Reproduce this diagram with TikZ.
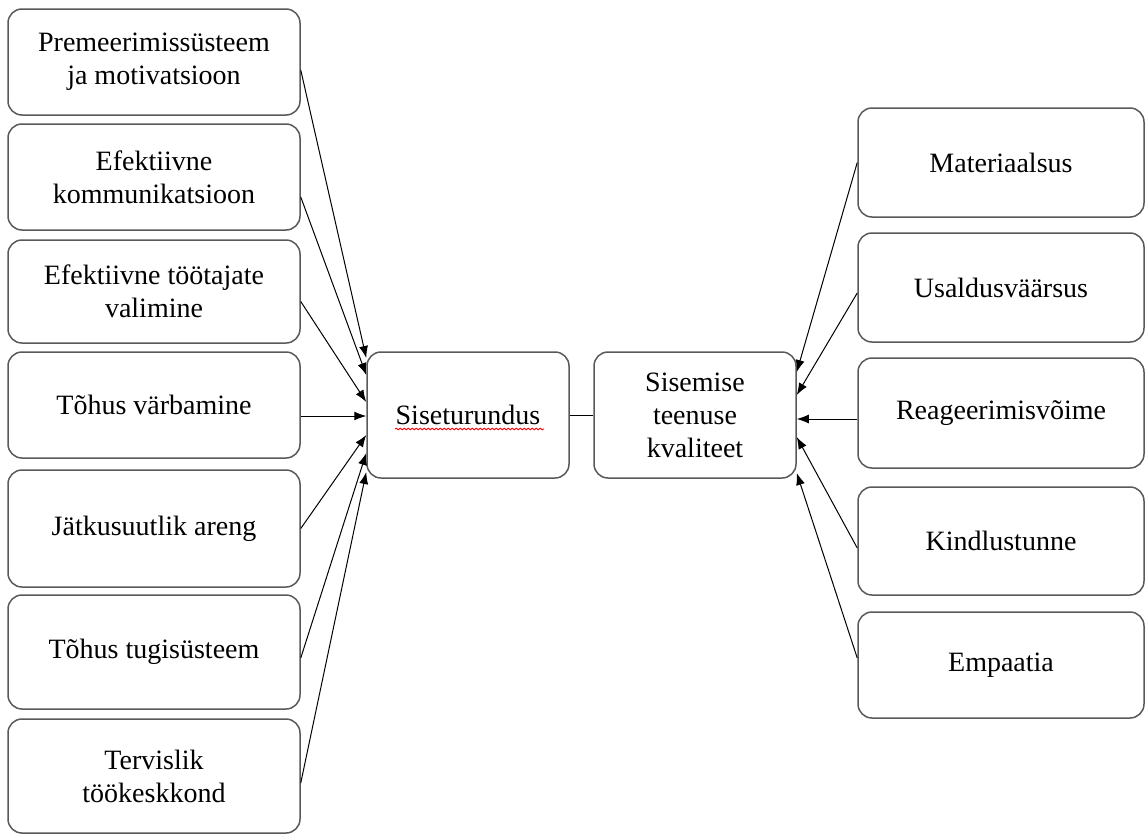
\documentclass[tikz,border=0pt]{standalone}
\usepackage{fontspec}
\setmainfont{Liberation Serif}
\usepackage{tikz}
\usetikzlibrary{arrows.meta,decorations.pathmorphing}

\begin{document}
\begin{tikzpicture}[x=0.5pt,y=-0.5pt,>={Latex[length=6pt,width=4.5pt]}]
% — styles ––––––––––––––––––––––––––
\tikzstyle{box}  =[draw=black!65,line width=0.75pt,rounded corners=7pt,align=center,inner sep=2pt,font=\fontsize{14}{16.5}\selectfont]
\tikzstyle{lbox} =[box,minimum width=146pt]
\tikzstyle{rbox} =[box,minimum width=143pt]
\tikzstyle{cbox} =[box,minimum width=101pt,minimum height=63pt]
\tikzstyle{conn} =[line width=0.5pt]
\tikzstyle{spell}=[red,line width=0.4pt,decorate,decoration={snake,amplitude=0.45pt,segment length=2pt}]

\useasboundingbox (0,0) rectangle (1146,835);

% --- left column ----------------------------------------------
\node[lbox,minimum height=53pt]   (prem)   at (154,62)    {Premeerimissüsteem\\ja motivatsioon};
\node[lbox,minimum height=53pt]   (komm)   at (154,177)   {Efektiivne\\kommunikatsioon};
\node[lbox,minimum height=51.5pt] (vali)   at (154,291.5) {Efektiivne töötajate\\valimine};
\node[lbox,minimum height=53pt]   (varb)   at (154,405)   {Tõhus värbamine};
\node[lbox,minimum height=58.5pt] (areng)  at (154,528.5) {Jätkusuutlik areng};
\node[lbox,minimum height=57pt]   (tugi)   at (154,652)   {Tõhus tugisüsteem};
\node[lbox,minimum height=57pt]   (tervis) at (154,776)   {Tervislik\\töökeskkond};

% --- middle pair ----------------------------------------------
\node[cbox] (sise) at (468,415) {Siseturundus};
\node[cbox] (kval) at (695,415) {Sisemise\\teenuse\\kvaliteet};
\draw[conn] (sise) -- (kval);

% spell-check underline
\draw[spell] ([xshift=-36.5pt,yshift=-7pt]sise.center) -- ([xshift=38pt,yshift=-7pt]sise.center);

% --- right column ---------------------------------------------
\node[rbox,minimum height=54.5pt] (mat)   at (1001,162.5) {Materiaalsus};
\node[rbox,minimum height=54.5pt] (usal)  at (1001,287.5) {Usaldusväärsus};
\node[rbox,minimum height=55pt]   (reag)  at (1001,413)   {Reageerimisvõime};
\node[rbox,minimum height=54pt]   (kindl) at (1001,541)   {Kindlustunne};
\node[rbox,minimum height=53pt]   (emp)   at (1001,665)   {Empaatia};

% --- arrows into Siseturundus ---------------------------------
\draw[conn,->] ([yshift=-4pt]prem.east)     -- ([yshift=28.5pt]sise.west);
\draw[conn,->] ([yshift=-10pt]komm.east)    -- ([yshift=20pt]sise.west);
\draw[conn,->] ([yshift=-5pt]vali.east)     -- ([yshift=6.5pt]sise.west);
\draw[conn,->] ([yshift=-5.5pt]varb.east)   -- ([yshift=-0.5pt]sise.west);
\draw[conn,->] (areng.east)                 -- ([yshift=-10pt]sise.west);
\draw[conn,->] ([yshift=-3pt]tugi.east)     -- ([yshift=-19pt]sise.west);
\draw[conn,->] ([yshift=-3.5pt]tervis.east) -- ([yshift=-28.5pt]sise.west);

% --- arrows into teenuse kvaliteet ----------------------------
\draw[conn,->] (mat.west)                   -- ([yshift=21.5pt]kval.east);
\draw[conn,->] ([yshift=-2.75pt]usal.west)  -- ([yshift=10pt]kval.east);
\draw[conn,->] ([yshift=-3pt]reag.west)     -- ([yshift=-2pt]kval.east);
\draw[conn,->] ([yshift=-3.5pt]kindl.west)  -- ([yshift=-11pt]kval.east);
\draw[conn,->] ([yshift=3.5pt]emp.west)     -- ([yshift=-29pt]kval.east);

\end{tikzpicture}
\end{document}
